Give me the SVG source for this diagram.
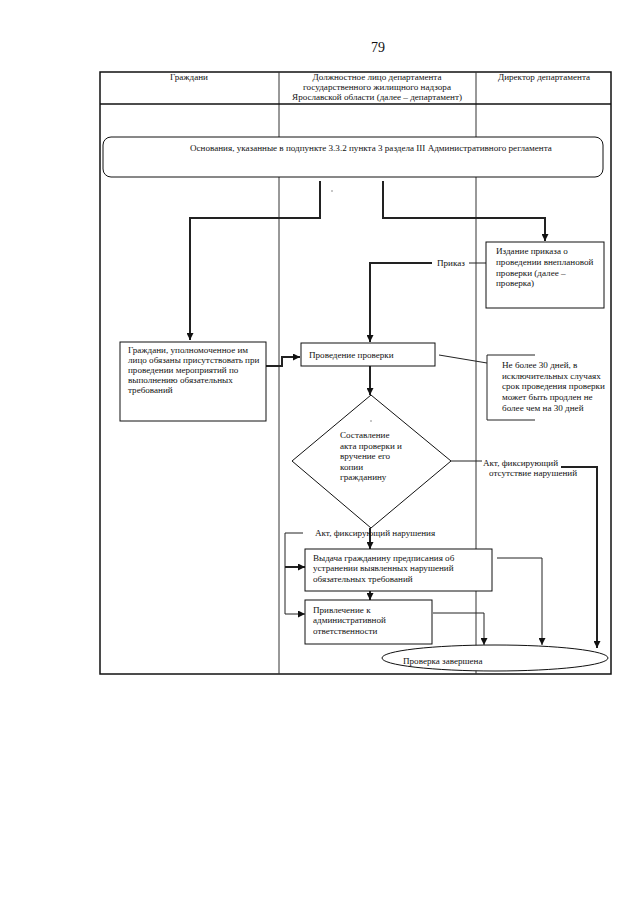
<svg xmlns="http://www.w3.org/2000/svg" width="640" height="905" viewBox="0 0 640 905">
<style>
text{font-family:"Liberation Serif","Times New Roman",serif;font-size:9.1px;fill:#111}
.frame{fill:none;stroke:#111;stroke-width:1.5}
.col{fill:none;stroke:#333;stroke-width:1}
.box{fill:#fff;stroke:#111;stroke-width:1}
.thk{fill:none;stroke:#222;stroke-width:2}
.thn{fill:none;stroke:#222;stroke-width:1}
</style>
<defs>
<marker id="arL" viewBox="0 0 10 10" refX="10" refY="5" markerWidth="7" markerHeight="7" markerUnits="userSpaceOnUse" orient="auto">
<path d="M0,0 L10,5 L0,10 z" fill="#111"/>
</marker>
</defs>
<rect width="640" height="905" fill="#fff"/>
<text x="378" y="52" style="font-size:14px" text-anchor="middle">79</text>
<g id="table">
<rect class="frame" x="100" y="72" width="511" height="602"/>
<line class="col" x1="279" y1="72" x2="279" y2="674"/>
<line class="col" x1="476" y1="72" x2="476" y2="674"/>
<line class="frame" x1="100" y1="104" x2="611" y2="104"/>
<text x="189" y="80" text-anchor="middle">Граждани</text>
<text x="377" y="80" text-anchor="middle">Должностное лицо департамента</text>
<text x="377" y="90" text-anchor="middle">государственного жилищного надзора</text>
<text x="377" y="100" text-anchor="middle">Ярославской области (далее – департамент)</text>
<text x="544" y="80" text-anchor="middle">Директор департамента</text>
</g>
<g id="connectors">
<polyline class="thk" points="320,181 320,218 190,218 190,340" marker-end="url(#arL)"/>
<polyline class="thk" points="383,181 383,218 545,218 545,241" marker-end="url(#arL)"/>
<line class="thn" x1="469" y1="263" x2="486" y2="263"/>
<polyline class="thk" points="432,263 370,263 370,342" marker-end="url(#arL)"/>
<polyline class="thk" points="266,366 282,366 282,357 300,357" marker-end="url(#arL)"/>
<line class="thn" x1="439" y1="355" x2="487" y2="363"/>
<line class="thk" x1="370" y1="366" x2="370" y2="395" marker-end="url(#arL)"/>
<line class="thn" x1="451" y1="461" x2="482" y2="461"/>
<polyline class="thk" points="561,467 597,467 597,648" marker-end="url(#arL)"/>
<line class="thk" x1="370" y1="528" x2="370" y2="549" marker-end="url(#arL)"/>
<polyline class="thn" points="303,533 285,533 285,614"/>
<line class="thk" x1="285" y1="567" x2="305" y2="567" marker-end="url(#arL)"/>
<line class="thn" x1="285" y1="614" x2="305" y2="614" marker-end="url(#arL)"/>
<line class="thk" x1="370" y1="591" x2="370" y2="600" marker-end="url(#arL)"/>
<polyline class="thn" points="497,558 542,558 542,645" marker-end="url(#arL)"/>
<polyline class="thn" points="433,613 484,613 484,645" marker-end="url(#arL)"/>
<text x="437" y="266">Приказ</text>
<text x="315" y="536">Акт, фиксирующий нарушения</text>
<text x="483" y="466">Акт, фиксирующий</text>
<text x="489" y="476">отсутствие нарушений</text>
</g>
<g id="n-osnovaniya">
<rect class="box" x="103" y="137" width="500" height="40" rx="8"/>
<text x="190" y="151">Основания, указанные в подпункте 3.3.2 пункта 3 раздела III Административного регламента</text>
<rect x="331.5" y="190.5" width="1" height="1" fill="#222"/>
</g>
<g id="n-izdanie">
<rect class="box" x="486" y="242" width="118" height="66"/>
<text x="496" y="254">Издание приказа о</text>
<text x="496" y="265">проведении внеплановой</text>
<text x="496" y="276">проверки (далее –</text>
<text x="496" y="286">проверка)</text>
</g>
<g id="n-grazhdanin">
<rect class="box" x="120" y="342" width="146" height="79"/>
<text x="128" y="353">Граждани, уполномоченное им</text>
<text x="128" y="363">лицо обязаны присутствовать при</text>
<text x="128" y="373">проведении мероприятий по</text>
<text x="128" y="383">выполнению обязательных</text>
<text x="128" y="393">требований</text>
</g>
<g id="n-provedenie">
<rect class="box" x="301" y="343" width="134" height="23"/>
<text x="309" y="358">Проведение проверки</text>
</g>
<g id="n-srok">
<polyline class="thn" points="535,355 487,355 487,420 535,420"/>
<text x="502" y="368">Не более 30 дней, в</text>
<text x="502" y="379">исключительных случаях</text>
<text x="502" y="389">срок проведения проверки</text>
<text x="502" y="400">может быть продлен не</text>
<text x="502" y="411">более чем на 30 дней</text>
</g>
<g id="n-sostavlenie">
<polygon class="box" points="371,395 451,461 371,528 292,461"/>
<rect x="370.5" y="420.5" width="1" height="1" fill="#222"/>
<text x="340" y="438">Составление</text>
<text x="340" y="449">акта проверки и</text>
<text x="340" y="459">вручение его</text>
<text x="340" y="470">копии</text>
<text x="340" y="480">гражданину</text>
</g>
<g id="n-vydacha">
<rect class="box" x="305" y="549" width="187" height="42"/>
<text x="313" y="561">Выдача гражданину предписания об</text>
<text x="313" y="571">устранении выявленных нарушений</text>
<text x="313" y="582">обязательных требований</text>
</g>
<g id="n-privlechenie">
<rect class="box" x="305" y="600" width="127" height="44"/>
<text x="313" y="613">Привлечение к</text>
<text x="313" y="623">административной</text>
<text x="313" y="634">ответственности</text>
</g>
<g id="n-zavershena">
<ellipse class="box" cx="495" cy="658" rx="113" ry="13"/>
<text x="403" y="664">Проверка завершена</text>
</g>
</svg>
